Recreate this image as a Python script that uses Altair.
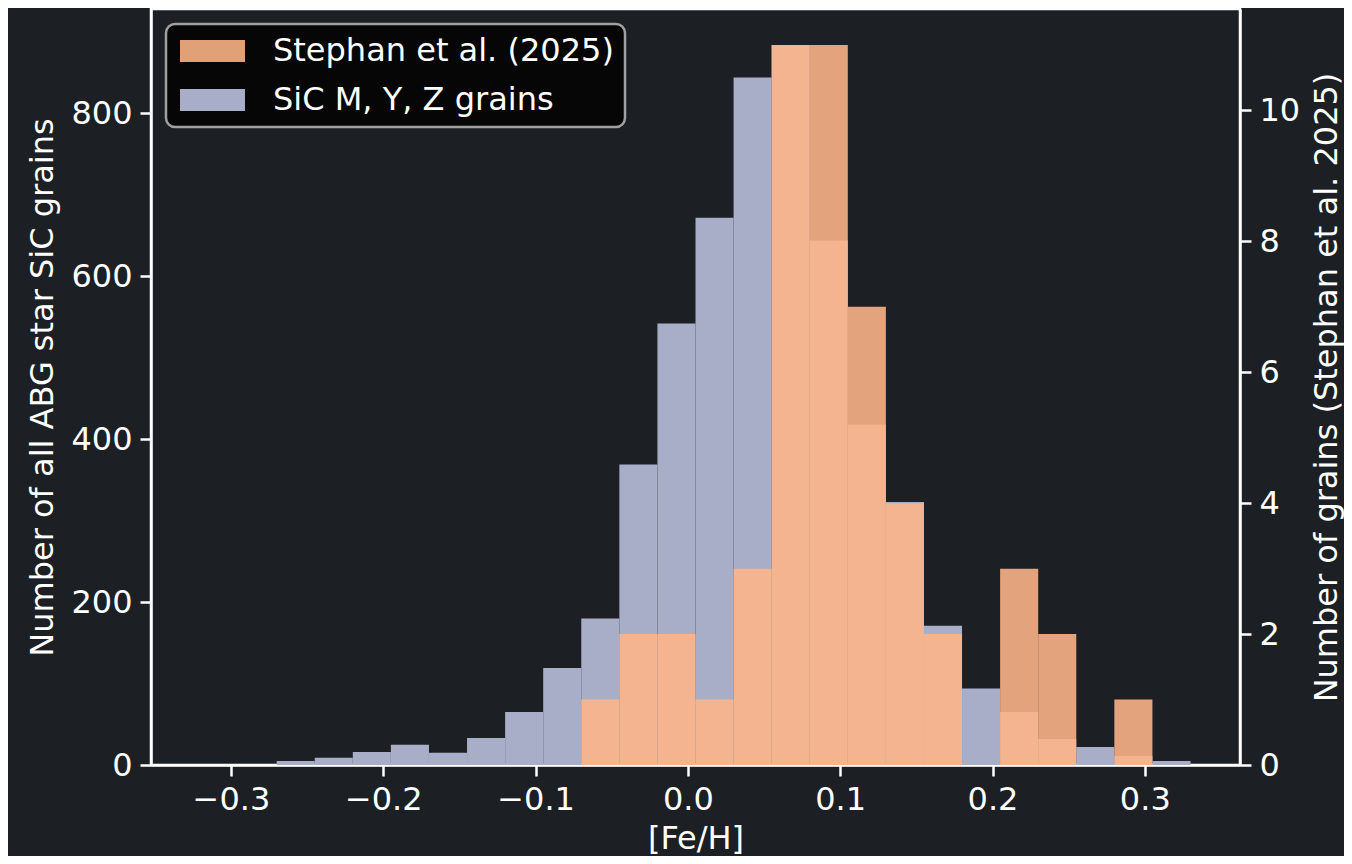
import altair as alt
import pandas as pd

# Histogram bins ([Fe/H])
bin_start = [-0.320, -0.295, -0.270, -0.245, -0.220, -0.195, -0.170, -0.145, -0.120, -0.095,
             -0.070, -0.045, -0.020, 0.005, 0.030, 0.055, 0.080, 0.105, 0.130, 0.155,
             0.180, 0.205, 0.230, 0.255, 0.280, 0.305]
bin_end = [-0.295, -0.270, -0.245, -0.220, -0.195, -0.170, -0.145, -0.120, -0.095, -0.070,
           -0.045, -0.020, 0.005, 0.030, 0.055, 0.080, 0.105, 0.130, 0.155, 0.180,
           0.205, 0.230, 0.255, 0.280, 0.305, 0.330]

# Number of all ABG star SiC grains (left axis)
sic_counts = [0, 0, 5, 9, 16, 25, 15, 33, 65, 119,
              180, 369, 542, 672, 844, 884, 644, 418, 323, 171,
              94, 65, 32, 22, 11, 5]
# Number of grains, Stephan et al. 2025 (right axis)
stephan_counts = [0, 0, 0, 0, 0, 0, 0, 0, 0, 0,
                  1, 2, 2, 1, 3, 11, 11, 7, 4, 2,
                  0, 3, 2, 0, 1, 0]

series_names = ["Stephan et al. (2025)", "SiC M, Y, Z grains"]
series_colors = ["rgba(253,181,135,0.885)", "#a8aec8"]

x_ticks = [-0.3, -0.2, -0.1, 0.0, 0.1, 0.2, 0.3]
left_ticks = [0, 200, 400, 600, 800]
right_ticks = [0, 2, 4, 6, 8, 10]

sic_df = pd.DataFrame({"start": bin_start, "end": bin_end, "count": sic_counts,
                       "series": series_names[1]})
st_df = pd.DataFrame({"start": bin_start, "end": bin_end, "count": stephan_counts,
                      "series": series_names[0]})

x_scale = alt.Scale(domain=[-0.3525, 0.3625], nice=False, zero=False)
x_axis = alt.Axis(title="[Fe/H]", values=x_ticks, format=".1f", labelFlush=False,
                  titlePadding=8)

legend = alt.Legend(
    title=None, orient="none", legendX=15, legendY=15,
    symbolType="M-1,-0.3385L1,-0.3385L1,0.3385L-1,0.3385Z",
    symbolSize=4225, symbolStrokeWidth=0, symbolOffset=3,
    labelOffset=28, labelFontSize=32, labelColor="white", labelLimit=0,
    clipHeight=32, rowPadding=17, padding=11,
    fillColor="#060607", strokeColor="#a0a0a0", cornerRadius=9,
)
color = alt.Color("series:N", scale=alt.Scale(domain=series_names, range=series_colors),
                  legend=legend)

sic_layer = alt.Chart(sic_df).mark_rect().encode(
    x=alt.X("start:Q", scale=x_scale, axis=x_axis),
    x2="end:Q",
    y=alt.Y("count:Q", scale=alt.Scale(domain=[0, 928.2], nice=False),
            axis=alt.Axis(title="Number of all ABG star SiC grains", orient="left",
                          values=left_ticks, titlePadding=11)),
    y2=alt.datum(0),
    color=color,
)

st_layer = alt.Chart(st_df).mark_rect().encode(
    x=alt.X("start:Q", scale=x_scale, axis=x_axis),
    x2="end:Q",
    y=alt.Y("count:Q", scale=alt.Scale(domain=[0, 11.55], nice=False),
            axis=alt.Axis(title="Number of grains (Stephan et al. 2025)", orient="right",
                          values=right_ticks, titleAngle=270, titleBaseline="top",
                          titlePadding=12)),
    y2=alt.datum(0),
    color=color,
)

chart = alt.layer(sic_layer, st_layer).resolve_scale(y="independent").properties(
    width=1089, height=756,
    padding={"left": 143, "top": 1, "right": 104, "bottom": 91},
    autosize=alt.AutoSizeParams(type="none"),
    background="#1c1f24",
).configure(
    font="DejaVu Sans",
).configure_view(
    stroke="white", strokeWidth=2.5,
).configure_axis(
    domainColor="white", domainWidth=2.5,
    tickColor="white", tickWidth=2.5, tickSize=11,
    labelColor="white", labelFontSize=32, labelPadding=8,
    titleColor="white", titleFontSize=32, titleFontWeight="normal",
    grid=False, zindex=1,
).configure_legend(
    strokeWidth=2.5,
)

chart.save("out.html", embed_options={"renderer": "svg", "actions": False})
